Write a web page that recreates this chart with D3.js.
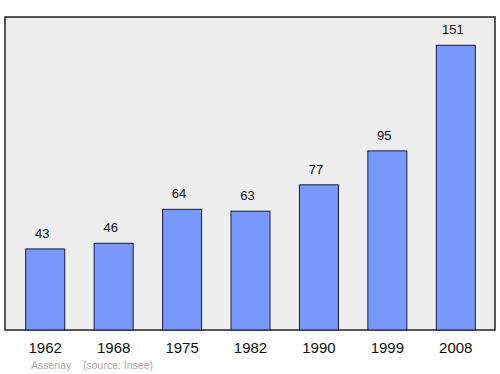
<!DOCTYPE html>
<html>
<head>
<meta charset="utf-8">
<script src="https://cdn.jsdelivr.net/npm/d3@7"></script>
<style>
  body { margin: 0; background: #fff; }
  text { font-family: "Liberation Sans", Arial, sans-serif; }
</style>
</head>
<body>
<div id="chart"></div>
<script>
var years = ["1962", "1968", "1975", "1982", "1990", "1999", "2008"]
var population = [43, 46, 64, 63, 77, 95, 151]
var placeName = "Assenay"
var sourceLabel = "(source: Insee)"

var width = 500, height = 374
var plot = { left: 5, top: 17, right: 495, bottom: 330 }

var svg = d3.select("#chart")
    .append("svg")
    .attr("width", width)
    .attr("height", height)

// fond gris de la zone de tracé
svg.append("rect")
    .attr("x", plot.left)
    .attr("y", plot.top)
    .attr("width", plot.right - plot.left)
    .attr("height", plot.bottom - plot.top)
    .attr("fill", "#eeeeee")
    .attr("stroke", "#222")
    .attr("stroke-width", 1.5)

var x = d3.scaleBand()
    .domain(years)
    .range([11, 490])
    .paddingInner(0.43)
    .paddingOuter(0.215)

var y = d3.scaleLinear()
    .domain([0, 166])
    .range([plot.bottom, plot.top])

var data = years.map(function (yr, i) {
    return { year: yr, value: population[i] }
})

svg.selectAll(".bar")
    .data(data)
    .enter()
    .append("rect")
    .attr("class", "bar")
    .attr("x", d => x(d.year))
    .attr("y", d => y(d.value))
    .attr("width", x.bandwidth())
    .attr("height", d => plot.bottom - y(d.value))
    .attr("fill", "#7799ff")
    .attr("stroke", "#1a1a3a")
    .attr("stroke-width", 1)

// valeurs au-dessus des barres (un peu décalées à gauche comme l'original)
svg.selectAll(".val")
    .data(data)
    .enter()
    .append("text")
    .attr("class", "val")
    .attr("x", d => x(d.year) + x.bandwidth() / 2 - 3)
    .attr("y", d => y(d.value) - 11)
    .attr("text-anchor", "middle")
    .attr("font-size", 13)
    .attr("fill", "#111")
    .text(d => d.value)

// années sous l'axe
svg.selectAll(".yr")
    .data(data)
    .enter()
    .append("text")
    .attr("class", "yr")
    .attr("x", d => x(d.year) + x.bandwidth() / 2)
    .attr("y", 353)
    .attr("text-anchor", "middle")
    .attr("font-size", 15)
    .attr("fill", "#111")
    .text(d => d.year)

svg.append("text")
    .attr("x", 31)
    .attr("y", 369)
    .attr("font-size", 10.5)
    .attr("fill", "#aaa")
    .text(placeName)

svg.append("text")
    .attr("x", 83)
    .attr("y", 369)
    .attr("font-size", 10.5)
    .attr("fill", "#aaa")
    .text(sourceLabel)
</script>
</body>
</html>
